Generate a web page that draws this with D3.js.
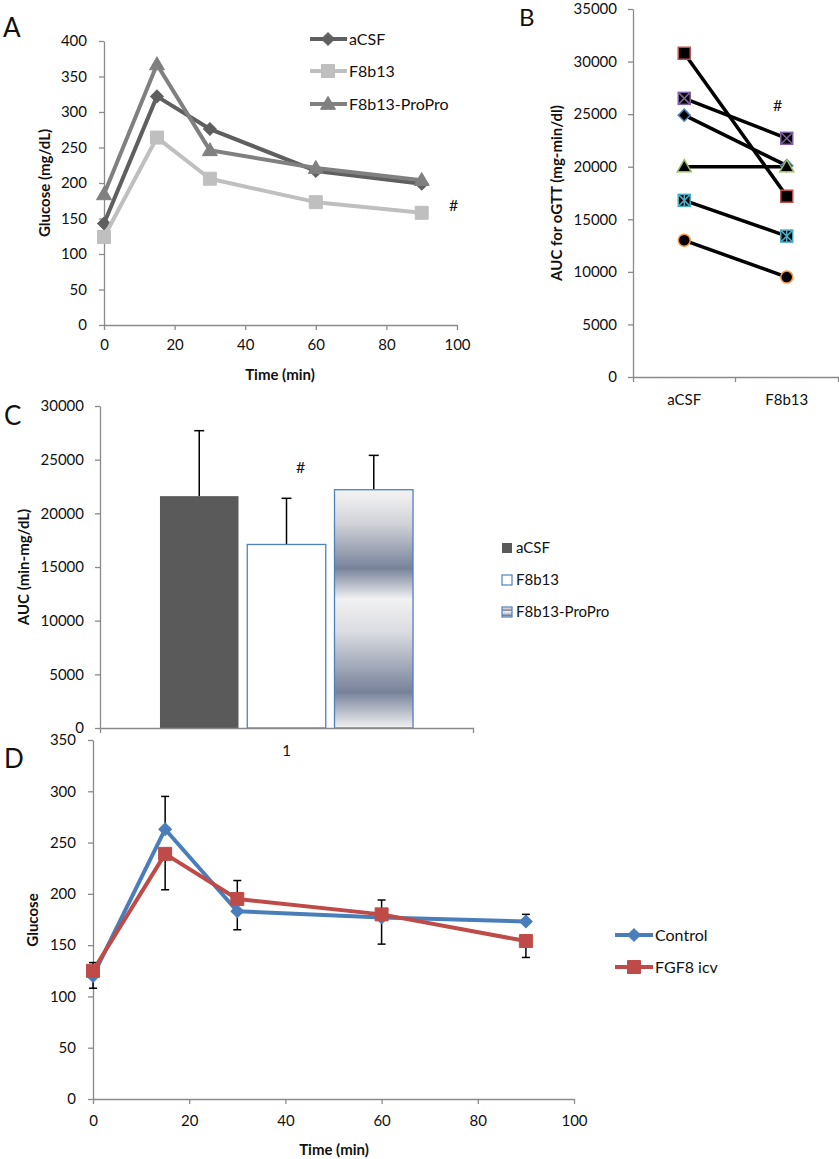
<!DOCTYPE html>
<html>
<head>
<meta charset="utf-8">
<script src="https://cdn.jsdelivr.net/npm/d3@7"></script>
<style>
body { margin: 0; background: #fff; }
svg { font-family: Lato, "Open Sans", sans-serif; }
</style>
</head>
<body>
<div id="fig"></div>
<script>
// A: oGTT time course, three groups
const timesA = [0, 15, 30, 60, 90]
const acsfA = [143, 322, 276, 217, 199]
const f8b13A = [124, 264, 206, 173, 158]
const proproA = [184, 367, 246, 221, 204]
const namesA = ["aCSF", "F8b13", "F8b13-ProPro"]

// B: paired AUC per animal (aCSF, F8b13)
const groupsB = ["aCSF", "F8b13"]
const aucAcsfB = [30800, 26500, 24900, 20000, 16800, 13000]
const aucF8b13B = [17200, 22700, 20100, 20000, 13400, 9500]

// C: mean AUC with SD
const seriesC = ["aCSF", "F8b13", "F8b13-ProPro"]
const meanC = [21600, 17100, 22200]
const sdC = [6100, 4300, 3200]

// D: control vs FGF8 icv
const timesD = [0, 15, 30, 60, 90]
const controlD = [120, 263, 183, 177, 173]
const fgf8D = [125, 239, 195, 180, 154]
const controlErrHi = [0, 32, 0, 0, 7]
const controlErrLo = [12, 0, 18, 26, 0]
const fgf8ErrHi = [8, 0, 18, 14, 0]
const fgf8ErrLo = [0, 35, 0, 0, 16]
const namesD = ["Control", "FGF8 icv"]

const axisColor = "#8a8a8a"
const font = "Lato, 'Open Sans', sans-serif"
const plain = d3.format("d")

const svg = d3.select("#fig").append("svg")
    .attr("width", 839)
    .attr("height", 1159)

function styleAxis(g) {
    g.attr("font-size", 15).attr("font-family", font)
    g.select(".domain").attr("stroke", axisColor).attr("stroke-width", 1.3)
    g.selectAll(".tick line").attr("stroke", axisColor).attr("stroke-width", 1.3)
    g.selectAll(".tick text").attr("fill", "#111")
}

function addText(x, y, txt, opts = {}) {
    const t = svg.append("text")
        .attr("x", x).attr("y", y)
        .attr("font-family", font)
        .attr("font-size", opts.size || 15)
        .attr("font-weight", opts.bold ? "bold" : "normal")
        .attr("text-anchor", opts.anchor || "start")
        .attr("fill", "#111")
        .text(txt)
    if (opts.rotate) t.attr("transform", `rotate(-90, ${x}, ${y})`)
    if (opts.dy) t.attr("dy", opts.dy)
    return t
}

function marker(g, type, x, y, size, fill, stroke, sw) {
    let sym
    if (type === "diamond") {
        sym = g.append("path").attr("d", d3.symbol(d3.symbolSquare, size * size)())
            .attr("transform", `translate(${x},${y}) rotate(45)`)
    } else if (type === "square") {
        sym = g.append("path").attr("d", d3.symbol(d3.symbolSquare, size * size)())
            .attr("transform", `translate(${x},${y})`)
    } else if (type === "triangle") {
        sym = g.append("path").attr("d", d3.symbol(d3.symbolTriangle, Math.sqrt(3) / 4 * size * size)())
            .attr("transform", `translate(${x},${y + 1})`)
    } else if (type === "circle") {
        sym = g.append("circle").attr("cx", x).attr("cy", y).attr("r", size / 2)
    } else {
        // cross / star: filled square with coloured strokes on top
        const h = size / 2
        sym = g.append("rect").attr("x", x - h).attr("y", y - h).attr("width", size).attr("height", size)
        let d = `M${x - h},${y - h}L${x + h},${y + h}M${x + h},${y - h}L${x - h},${y + h}`
        if (type === "star") d += `M${x},${y - h}L${x},${y + h}`
        g.append("path").attr("d", d).attr("stroke", stroke).attr("stroke-width", 1.5).attr("fill", "none")
    }
    sym.attr("fill", fill).attr("stroke", stroke).attr("stroke-width", sw)
}

/* ---------- PANEL A ---------- */
{
    const x = d3.scaleLinear().domain([0, 100]).range([104, 457])
    const y = d3.scaleLinear().domain([0, 400]).range([325, 41])
    const g = svg.append("g")

    g.append("g").attr("transform", "translate(0,325)")
        .call(d3.axisBottom(x).tickValues(d3.range(0, 101, 20)).tickFormat(plain).tickSize(5).tickSizeOuter(0).tickPadding(9))
        .call(styleAxis)
    g.append("g").attr("transform", "translate(104,0)")
        .call(d3.axisLeft(y).tickValues(d3.range(0, 401, 50)).tickFormat(plain).tickSize(5).tickSizeOuter(0).tickPadding(12))
        .call(styleAxis)

    const series = [
        { vals: acsfA, color: "#5f5f5f", mk: "diamond", size: 9 },
        { vals: f8b13A, color: "#bfbfbf", mk: "square", size: 13 },
        { vals: proproA, color: "#808080", mk: "triangle", size: 15 },
    ]
    const line = d3.line().x((d, i) => x(timesA[i])).y(d => y(d))
    series.forEach(s => {
        g.append("path").datum(s.vals)
            .attr("fill", "none").attr("stroke", s.color).attr("stroke-width", 4)
            .attr("stroke-linejoin", "round")
            .attr("d", line)
        s.vals.forEach((v, i) => marker(g, s.mk, x(timesA[i]), y(v), s.size, s.color, s.color, 1))
    })

    // legend
    const legY = [39, 71, 104]
    series.forEach((s, i) => {
        g.append("line").attr("x1", 310).attr("x2", 347).attr("y1", legY[i]).attr("y2", legY[i])
            .attr("stroke", s.color).attr("stroke-width", 4)
        marker(g, s.mk, 328, legY[i], s.size, s.color, s.color, 1)
        addText(349, legY[i], namesA[i], { size: 16, dy: "0.36em" })
    })

    addText(449, 211, "#", { size: 16 })
    addText(280, 380, "Time (min)", { bold: true, anchor: "middle" })
    addText(50, 183, "Glucose (mg/dL)", { bold: true, anchor: "middle", rotate: true })
    addText(3, 37, "A", { size: 26 })
}

/* ---------- PANEL B ---------- */
{
    const x = d3.scaleBand().domain(groupsB).range([633, 838]).padding(0)
    const y = d3.scaleLinear().domain([0, 35000]).range([377, 9])
    const g = svg.append("g")

    g.append("g").attr("transform", "translate(0,377)")
        .call(d3.axisBottom(x).tickSizeInner(0).tickSizeOuter(5).tickPadding(17))
        .call(styleAxis)
    g.append("line").attr("x1", x(groupsB[1])).attr("x2", x(groupsB[1]))
        .attr("y1", 377).attr("y2", 382).attr("stroke", axisColor).attr("stroke-width", 1.3)
    g.append("g").attr("transform", "translate(633,0)")
        .call(d3.axisLeft(y).tickValues(d3.range(0, 35001, 5000)).tickFormat(plain).tickSize(5).tickSizeOuter(0).tickPadding(11))
        .call(styleAxis)

    const styles = [
        { mk: "square", stroke: "#c0504d", size: 12 },
        { mk: "cross", stroke: "#8064a2", size: 12 },
        { mk: "diamond", stroke: "#4f81bd", size: 8.5 },
        { mk: "triangle", stroke: "#9bbb59", size: 14 },
        { mk: "star", stroke: "#4bacc6", size: 12 },
        { mk: "circle", stroke: "#f79646", size: 12 },
    ]
    const cx = c => x(c) + x.bandwidth() / 2
    aucAcsfB.forEach((v, i) => {
        g.append("line")
            .attr("x1", cx(groupsB[0])).attr("y1", y(v))
            .attr("x2", cx(groupsB[1])).attr("y2", y(aucF8b13B[i]))
            .attr("stroke", "#000").attr("stroke-width", 3.5)
    })
    aucAcsfB.forEach((v, i) => {
        const s = styles[i]
        marker(g, s.mk, cx(groupsB[0]), y(v), s.size, "#000", s.stroke, 1.5)
        marker(g, s.mk, cx(groupsB[1]), y(aucF8b13B[i]), s.size, "#000", s.stroke, 1.5)
    })

    addText(773, 111, "#", { size: 16 })
    addText(562, 193, "AUC for oGTT (mg-min/dl)", { bold: true, anchor: "middle", rotate: true })
    addText(519, 26, "B", { size: 24 })
}

/* ---------- PANEL C ---------- */
{
    const xCat = d3.scaleBand().domain(["1"]).range([100, 473]).paddingInner(0).paddingOuter(0.237)
    const xSer = d3.scaleBand().domain(seriesC).range([0, xCat.bandwidth()]).paddingInner(0.1)
    const y = d3.scaleLinear().domain([0, 30000]).range([728, 406])
    const g = svg.append("g")

    const grad = svg.append("defs").append("linearGradient")
        .attr("id", "propro").attr("x1", 0).attr("x2", 0).attr("y1", 0).attr("y2", 1)
    const stops = [[0, "#f4f4f4"], [0.14, "#d2d4d9"], [0.33, "#77829a"], [0.46, "#f2f2f2"], [0.6, "#d9dbe0"], [0.85, "#77829a"], [1, "#f2f2f2"]]
    stops.forEach(s => grad.append("stop").attr("offset", s[0]).attr("stop-color", s[1]))

    g.append("g").attr("transform", "translate(100,0)")
        .call(d3.axisLeft(y).tickValues(d3.range(0, 30001, 5000)).tickFormat(plain).tickSize(5).tickSizeOuter(0).tickPadding(11))
        .call(styleAxis)

    const fills = ["#5a5a5a", "#ffffff", "url(#propro)"]
    const strokes = ["none", "#4f81bd", "#4f81bd"]
    seriesC.forEach((s, i) => {
        const bx = xCat("1") + xSer(s)
        // error bar (upper only)
        g.append("line").attr("x1", bx + xSer.bandwidth() / 2).attr("x2", bx + xSer.bandwidth() / 2)
            .attr("y1", y(meanC[i])).attr("y2", y(meanC[i] + sdC[i]))
            .attr("stroke", "#000").attr("stroke-width", 1.5)
        g.append("line").attr("x1", bx + xSer.bandwidth() / 2 - 5).attr("x2", bx + xSer.bandwidth() / 2 + 5)
            .attr("y1", y(meanC[i] + sdC[i])).attr("y2", y(meanC[i] + sdC[i]))
            .attr("stroke", "#000").attr("stroke-width", 1.5)
        g.append("rect")
            .attr("x", bx).attr("y", y(meanC[i]))
            .attr("width", xSer.bandwidth()).attr("height", y(0) - y(meanC[i]))
            .attr("fill", fills[i]).attr("stroke", strokes[i]).attr("stroke-width", 1.3)
    })

    g.append("g").attr("transform", "translate(0,728)")
        .call(d3.axisBottom(xCat).tickSizeInner(0).tickSizeOuter(5).tickPadding(17))
        .call(styleAxis)

    const legY = [548, 580, 612]
    seriesC.forEach((s, i) => {
        g.append("rect").attr("x", 502).attr("y", legY[i] - 5).attr("width", 10).attr("height", 10)
            .attr("fill", fills[i]).attr("stroke", strokes[i]).attr("stroke-width", 1.2)
        addText(516, legY[i], s, { size: 15, dy: "0.36em" })
    })

    addText(296, 473, "#", { size: 16 })
    addText(29, 567, "AUC (min-mg/dL)", { bold: true, anchor: "middle", rotate: true })
    addText(4, 425, "C", { size: 26 })
}

/* ---------- PANEL D ---------- */
{
    const x = d3.scaleLinear().domain([0, 100]).range([93, 574])
    const y = d3.scaleLinear().domain([0, 350]).range([1099, 740])
    const g = svg.append("g")

    g.append("g").attr("transform", "translate(0,1099)")
        .call(d3.axisBottom(x).tickValues(d3.range(0, 101, 20)).tickFormat(plain).tickSize(5).tickSizeOuter(0).tickPadding(11))
        .call(styleAxis)
    g.append("g").attr("transform", "translate(93,0)")
        .call(d3.axisLeft(y).tickValues(d3.range(0, 351, 50)).tickFormat(plain).tickSize(5).tickSizeOuter(0).tickPadding(12))
        .call(styleAxis)

    const series = [
        { vals: controlD, hi: controlErrHi, lo: controlErrLo, color: "#4a7ebb", mk: "diamond", size: 9 },
        { vals: fgf8D, hi: fgf8ErrHi, lo: fgf8ErrLo, color: "#be4b48", mk: "square", size: 13 },
    ]
    // error bars under the lines
    series.forEach(s => {
        s.vals.forEach((v, i) => {
            const px = x(timesD[i])
            ;[[s.hi[i], 1], [s.lo[i], -1]].forEach(([e, sign]) => {
                if (!e) return
                const end = y(v + sign * e)
                g.append("line").attr("x1", px).attr("x2", px).attr("y1", y(v)).attr("y2", end)
                    .attr("stroke", "#000").attr("stroke-width", 1.5)
                g.append("line").attr("x1", px - 4).attr("x2", px + 4).attr("y1", end).attr("y2", end)
                    .attr("stroke", "#000").attr("stroke-width", 1.5)
            })
        })
    })
    const line = d3.line().x((d, i) => x(timesD[i])).y(d => y(d))
    series.forEach(s => {
        g.append("path").datum(s.vals)
            .attr("fill", "none").attr("stroke", s.color).attr("stroke-width", 4)
            .attr("stroke-linejoin", "round")
            .attr("d", line)
        s.vals.forEach((v, i) => marker(g, s.mk, x(timesD[i]), y(v), s.size, s.color, s.color, 1))
    })

    const legY = [935, 967]
    series.forEach((s, i) => {
        g.append("line").attr("x1", 615).attr("x2", 653).attr("y1", legY[i]).attr("y2", legY[i])
            .attr("stroke", s.color).attr("stroke-width", 4)
        marker(g, s.mk, 634, legY[i], s.size, s.color, s.color, 1)
        addText(655, legY[i], namesD[i], { size: 16, dy: "0.36em" })
    })

    addText(334, 1155, "Time (min)", { bold: true, anchor: "middle" })
    addText(38, 920, "Glucose", { bold: true, anchor: "middle", rotate: true })
    addText(4, 768, "D", { size: 26 })
}
</script>
</body>
</html>
